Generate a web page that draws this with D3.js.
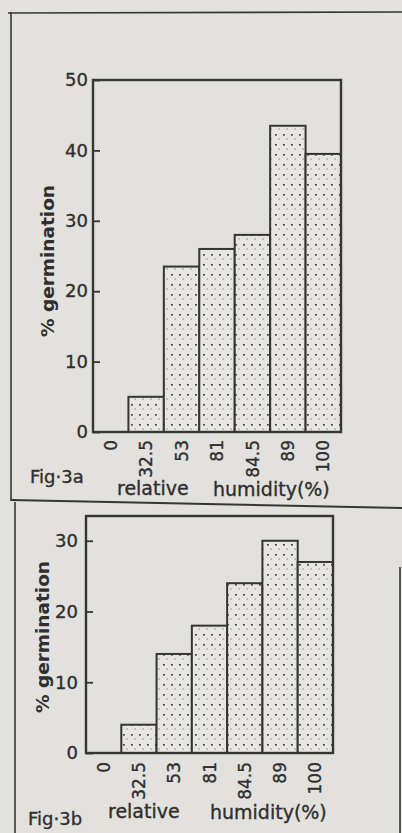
<!DOCTYPE html>
<html><head><meta charset="utf-8">
<script src="https://cdn.jsdelivr.net/npm/d3@7"></script>
<style>html,body{margin:0;padding:0;background:#e2e1dd;} svg{display:block}</style>
</head><body><svg id="c" width="402" height="833"></svg>
<script>
const categories = ["0", "32.5", "53", "81", "84.5", "89", "100"];
const germinationA = [0, 5, 23.5, 26, 28, 43.5, 39.5];
const germinationB = [0, 4, 14, 18, 24, 30, 27];
const ticksA = [0, 10, 20, 30, 40, 50];
const ticksB = [0, 10, 20, 30];
const yTitle = "% germination";
const xTitle1 = "relative";
const xTitle2 = "humidity(%)";
const figLabels = ["Fig·3a", "Fig·3b"];

const ink = "#353535";
const txt = "#2f2f2f";
const bg = "#e2e1dd";
const svg = d3.select("#c");
svg.append("rect").attr("width", 402).attr("height", 833).attr("fill", bg);

const defs = svg.append("defs");
const pat = defs.append("pattern").attr("id", "stip").attr("patternUnits", "userSpaceOnUse")
  .attr("width", 8).attr("height", 10);
pat.append("rect").attr("width", 8).attr("height", 10).attr("fill", "#e6e5e1");
pat.append("rect").attr("x", 3).attr("y", 4).attr("width", 1.8).attr("height", 1.7).attr("fill", "#444");
pat.append("rect").attr("x", 6.5).attr("y", 8.6).attr("width", 1.2).attr("height", 0.9).attr("fill", "#666");

// figure frames
const frame = svg.append("g").attr("stroke", ink).attr("fill", "none");
frame.append("line").attr("x1", 8).attr("y1", 13).attr("x2", 402).attr("y2", 12).attr("stroke-width", 1.6);
frame.append("line").attr("x1", 11).attr("y1", 12).attr("x2", 11).attr("y2", 501).attr("stroke-width", 1.6);
frame.append("line").attr("x1", 11).attr("y1", 500).attr("x2", 402).attr("y2", 508).attr("stroke-width", 2);
frame.append("line").attr("x1", 15).attr("y1", 502).attr("x2", 15).attr("y2", 833).attr("stroke-width", 1.6);
frame.append("line").attr("x1", 400).attr("y1", 567).attr("x2", 400).attr("y2", 833).attr("stroke-width", 1.6);

function styleText(sel, size) {
  sel.attr("font-family", "DejaVu Sans").attr("font-size", size).attr("fill", txt)
    .attr("stroke", txt).attr("stroke-width", 0.35);
}

function panel(cfg) {
  const x = d3.scaleBand().domain(categories).range([cfg.x0, cfg.x1]).padding(0);
  const y = d3.scaleLinear().domain([0, cfg.ymax]).range([cfg.y0, cfg.y1]);
  const g = svg.append("g");

  // bars
  g.selectAll("rect.bar").data(cfg.values.map((v, i) => ({c: categories[i], v})).filter(d => d.v > 0))
    .enter().append("rect").attr("class", "bar")
    .attr("x", d => x(d.c)).attr("width", x.bandwidth())
    .attr("y", d => y(d.v)).attr("height", d => y(0) - y(d.v))
    .attr("fill", "url(#stip)").attr("stroke", ink).attr("stroke-width", 2);

  // plot box
  g.append("rect").attr("x", cfg.x0).attr("y", y(cfg.ymax)).attr("width", cfg.x1 - cfg.x0)
    .attr("height", y(0) - y(cfg.ymax)).attr("fill", "none").attr("stroke", ink).attr("stroke-width", 2.4);

  // y axis
  const ya = g.append("g").attr("transform", `translate(${cfg.x0},0)`)
    .call(d3.axisLeft(y).tickValues(cfg.ticks).tickSizeInner(-7).tickSizeOuter(0).tickPadding(cfg.ypad));
  ya.select(".domain").remove();
  ya.selectAll("line").attr("stroke", ink).attr("stroke-width", 1.8);
  styleText(ya.selectAll("text"), 18);

  // x axis
  const xa = g.append("g").attr("transform", `translate(0,${cfg.y0})`)
    .call(d3.axisBottom(x).tickSize(0));
  xa.select(".domain").remove();
  const xt = xa.selectAll("text").attr("transform", "rotate(-90)").attr("x", -cfg.xpad).attr("y", 0)
    .attr("dy", "0.36em").attr("text-anchor", "end");
  styleText(xt, 17);

  // y title
  const yt = g.append("text").attr("transform", `translate(${cfg.ytx},${cfg.yty}) rotate(-90)`)
    .attr("text-anchor", "middle").attr("font-weight", "bold")
    .attr("textLength", 152).attr("lengthAdjust", "spacingAndGlyphs").text(yTitle);
  styleText(yt, 18);
  yt.attr("stroke-width", 0);

  // x title and figure label
  styleText(g.append("text").attr("x", cfg.fx).attr("y", cfg.fy).text(cfg.fig), 18);
  styleText(g.append("text").attr("x", cfg.t1x).attr("y", cfg.ty).text(xTitle1), 19);
  styleText(g.append("text").attr("x", cfg.t2x).attr("y", cfg.ty + 1).text(xTitle2), 19);
}

panel({values: germinationA, ticks: ticksA, ymax: 50, x0: 93, x1: 341, y0: 432, y1: 80,
  ypad: 5, xpad: 8, ytx: 54, yty: 261, fig: figLabels[0], fx: 30, fy: 483, t1x: 117, t2x: 213, ty: 495});
panel({values: germinationB, ticks: ticksB, ymax: 33.5, x0: 86, x1: 333, y0: 753, y1: 516,
  ypad: 8, xpad: 9, ytx: 49, yty: 637, fig: figLabels[1], fx: 28, fy: 825, t1x: 108, t2x: 210, ty: 818});
</script></body></html>
